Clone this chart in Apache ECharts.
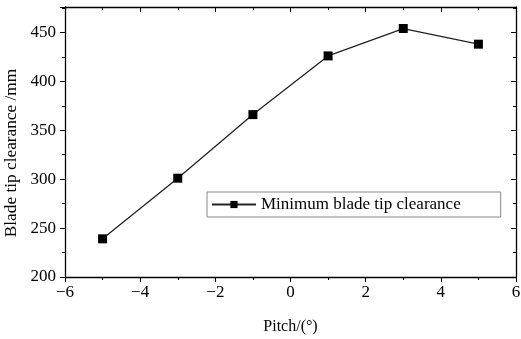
<!DOCTYPE html>
<html lang="en">
<head>
    <meta charset="UTF-8">
    <title>Minimum blade tip clearance</title>
    <script src="https://cdn.jsdelivr.net/npm/echarts@6/dist/echarts.min.js"></script>
    <style type="text/css">
        html, body { margin: 0; padding: 0; background: #fff; }
        #main { width: 521px; height: 339px; }
    </style>
</head>
<body>
<div id="main"></div>
<script type="application/javascript">
    // values
    var pitch = [-5, -3, -1, 1, 3, 5];
    var clearance = [239, 301, 366, 426, 454, 438];
    var seriesName = 'Minimum blade tip clearance';

    var font = 'Liberation Serif, Times New Roman, serif';
    var axisLine = { show: true, onZero: false, lineStyle: { color: '#000', width: 1.3 } };

    var points = pitch.map(function (p, i) { return [p, clearance[i]]; });

    var myChart = echarts.init(document.getElementById('main'));
    myChart.setOption({
        animation: false,
        textStyle: { fontFamily: font },
        grid: { left: 65, right: 5, top: 7, bottom: 62, outerBoundsMode: 'none', containLabel: false },
        legend: {
            left: 207,
            top: 192,
            padding: [4, 40, 4, 4],
            borderColor: '#888',
            borderWidth: 1,
            itemWidth: 44,
            itemHeight: 9,
            itemGap: 6,
            textStyle: { fontFamily: font, fontSize: 17, color: '#000' },
            data: [seriesName]
        },
        xAxis: [{
            type: 'value',
            min: -6, max: 6, interval: 2,
            name: 'Pitch/(°)',
            nameLocation: 'middle',
            nameGap: 42,
            nameTextStyle: { fontFamily: font, fontSize: 16, color: '#000' },
            axisLine: axisLine,
            axisTick: { show: true, length: 5, lineStyle: { color: '#000' } },
            minorTick: { show: true, splitNumber: 2, length: 3, lineStyle: { color: '#000' } },
            axisLabel: {
                fontFamily: font, fontSize: 17, color: '#000', margin: 7,
                formatter: function (v) { return String(v).replace('-', '\u2212'); }
            },
            splitLine: { show: false }
        }, {
            type: 'value', position: 'top',
            min: -6, max: 6, interval: 2,
            axisLine: axisLine,
            axisTick: { show: true, inside: true, length: 5, lineStyle: { color: '#000' } },
            minorTick: { show: true, splitNumber: 2, length: 3, lineStyle: { color: '#000' } },
            axisLabel: { show: false },
            splitLine: { show: false }
        }],
        yAxis: [{
            type: 'value',
            min: 200, max: 476, interval: 50,
            name: 'Blade tip clearance /mm',
            nameLocation: 'middle',
            nameGap: 43,
            nameTextStyle: { fontFamily: font, fontSize: 17.3, color: '#000', padding: [0, 22, 0, 0] },
            axisLine: axisLine,
            axisTick: { show: true, length: 5, lineStyle: { color: '#000' } },
            minorTick: { show: true, splitNumber: 2, length: 3, lineStyle: { color: '#000' } },
            axisLabel: {
                fontFamily: font, fontSize: 17, color: '#000', margin: 9,
                showMaxLabel: false
            },
            splitLine: { show: false }
        }, {
            type: 'value', position: 'right',
            min: 200, max: 476, interval: 50,
            axisLine: axisLine,
            axisTick: { show: true, inside: true, length: 5, lineStyle: { color: '#000' } },
            minorTick: { show: true, splitNumber: 2, length: 3, lineStyle: { color: '#000' } },
            axisLabel: { show: false },
            splitLine: { show: false }
        }],
        series: [{
            name: seriesName,
            type: 'line',
            data: points,
            symbol: 'rect',
            symbolSize: 9,
            itemStyle: { color: '#000' },
            lineStyle: { color: '#222', width: 1.3 }
        }]
    });
</script>
</body>
</html>
